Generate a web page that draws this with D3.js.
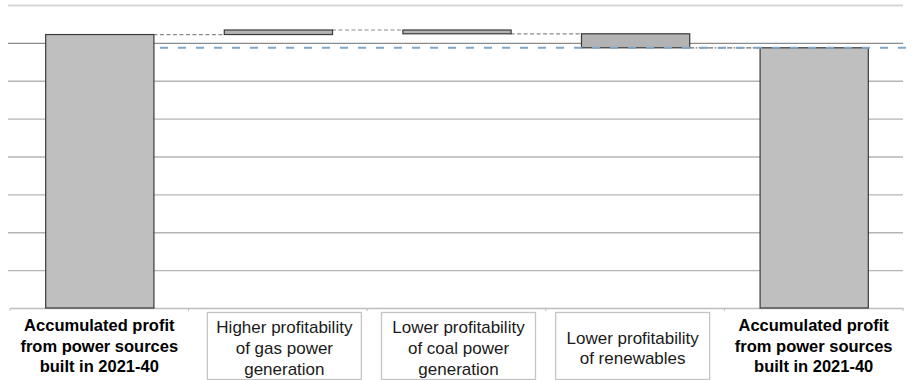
<!DOCTYPE html>
<html>
<head>
<meta charset="utf-8">
<script src="https://cdn.jsdelivr.net/npm/d3@7"></script>
<style>
  html, body { margin: 0; padding: 0; background: #fff; }
  svg { display: block; }
  text { font-family: "Liberation Sans", Arial, sans-serif; fill: #000; }
</style>
</head>
<body>
<svg id="chart" width="913" height="380"></svg>
<script>
// ---- data ----
const categories = ["start", "gas", "coal", "renewables", "end"];
const labelLines = [
  ["Accumulated profit", "from power sources", "built in 2021-40"],
  ["Higher profitability", "of gas power", "generation"],
  ["Lower profitability", "of coal power", "generation"],
  ["Lower profitability", "of renewables"],
  ["Accumulated profit", "from power sources", "built in 2021-40"]
];
const kinds = ["total", "delta", "delta", "delta", "total"];
const values = [72.2, 1.2, -1.0, -3.7, 68.7];
const gridTicks = [0, 10, 20, 30, 40, 50, 60, 70, 80];
const referenceLevel = 68.7;

// ---- layout ----
const svg = d3.select("#chart");
const x = d3.scaleBand().domain(categories).range([10, 903])
  .paddingInner(0.394).paddingOuter(0.197);
const y = d3.scaleLinear().domain([0, 80]).range([308, 5]);

// build waterfall segments
let run = 0;
const segs = categories.map((c, i) => {
  let y0, y1;
  if (kinds[i] === "total") { y0 = 0; y1 = values[i]; run = values[i]; }
  else { y0 = run; y1 = run + values[i]; run = y1; }
  return { cat: c, y0, y1, end: run, kind: kinds[i] };
});

// gridlines
const gy = svg.append("g").attr("transform", "translate(903,0)");
gy.call(d3.axisRight(y).tickValues(gridTicks.slice(1)).tickSize(-(903 - 8)).tickFormat(""));
gy.select(".domain").remove();
gy.selectAll(".tick line")
  .attr("stroke", d => d === 80 ? "#d6d6d6" : (d === 70 ? "#8c8c8c" : "#b4b4b4"))
  .attr("stroke-width", d => d === 80 ? 2 : 1.3);

// x axis
const gx = svg.append("g").attr("transform", `translate(0,${y(0)})`);
gx.call(d3.axisBottom(x).tickSize(0).tickFormat(""));
gx.select(".domain").attr("stroke", "#bdbdbd").attr("stroke-width", 1.5);
const bounds = [10].concat(categories.map(c => x(c) + x.bandwidth() + x.step() * x.paddingInner() / 2));
bounds[bounds.length - 1] = 903;
gx.selectAll(".bnd").data(bounds).join("line").attr("class", "bnd")
  .attr("x1", d => d).attr("x2", d => d).attr("y1", 0).attr("y2", 3)
  .attr("stroke", "#bdbdbd").attr("stroke-width", 1);

// connectors
segs.forEach((s, i) => {
  if (i === segs.length - 1) return;
  const nxt = categories[i + 1];
  const lvl = s.end;
  svg.append("line")
    .attr("x1", x(s.cat) + x.bandwidth()).attr("x2", x(nxt))
    .attr("y1", y(lvl)).attr("y2", y(lvl))
    .attr("stroke", i === 3 ? "#6f6f6f" : "#8a8a8a").attr("stroke-width", 1.2)
    .attr("stroke-dasharray", i === 3 ? "5,1.5,1.5,1.5" : "4,2.5");
});

// bars
svg.selectAll(".bar").data(segs).join("rect").attr("class", "bar")
  .attr("x", d => x(d.cat) + 0.5)
  .attr("width", x.bandwidth())
  .attr("y", d => y(Math.max(d.y0, d.y1)))
  .attr("height", d => Math.abs(y(d.y0) - y(d.y1)))
  .attr("fill", d => d.kind === "total" ? "#bfbfbf" : "#b3b3b3")
  .attr("stroke", "#3a3a3a").attr("stroke-width", 1.2);

// blue reference dashed line
svg.append("line")
  .attr("x1", 160).attr("x2", 913)
  .attr("y1", y(referenceLevel)).attr("y2", y(referenceLevel))
  .attr("stroke", "#7ea6c8").attr("stroke-width", 2)
  .attr("stroke-dasharray", "8,10");

// category labels
const boxTop = 312, boxH = 67, boxW = 154, lh = 20.7;
const midCx = x(categories[2]) + x.bandwidth() / 2;
labelLines.forEach((lines, i) => {
  const bandCx = x(categories[i]) + x.bandwidth() / 2;
  const isTotal = kinds[i] === "total";
  const cx = isTotal ? bandCx : midCx + (bandCx - midCx) * 0.975 + 2;
  const g = svg.append("g");
  if (!isTotal) {
    g.append("rect").attr("x", cx - boxW / 2).attr("y", boxTop + 0.5)
      .attr("width", boxW).attr("height", boxH)
      .attr("fill", "none").attr("stroke", "#c4c4c4").attr("stroke-width", 1.3);
  }
  const mid = boxTop + boxH / 2 + (isTotal ? 6 : 8.5);
  const n = lines.length;
  lines.forEach((t, j) => {
    g.append("text")
      .attr("x", cx)
      .attr("y", mid + (j - (n - 1) / 2) * lh)
      .attr("text-anchor", "middle")
      .attr("font-size", isTotal ? "16.5px" : "17px")
      .attr("font-weight", isTotal ? "bold" : "normal")
      .style("fill", isTotal ? "#000" : "#1a1a1a")
      .text(t);
  });
});
</script>
</body>
</html>
